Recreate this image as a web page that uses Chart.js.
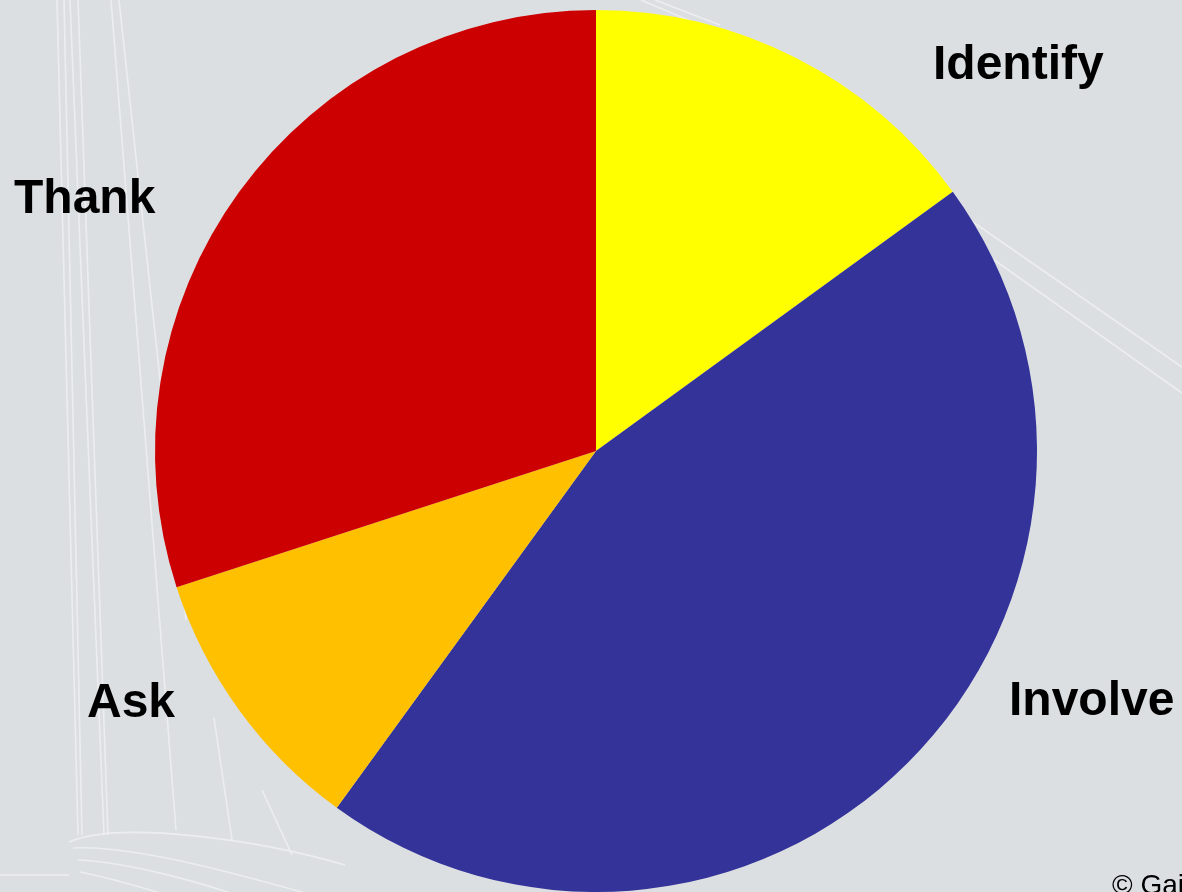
<!DOCTYPE html>
<html>
<head>
<meta charset="utf-8">
<script src="https://cdn.jsdelivr.net/npm/chart.js@4/dist/chart.umd.min.js"></script>
<style>
    html, body { margin: 0; padding: 0; background: #dcdfe2; overflow: hidden; }
    #wrap { width: 1182px; height: 892px; position: relative; }
</style>
</head>
<body>
<div id="wrap"><canvas id="pie"></canvas></div>
<script>
const categories = ['Identify', 'Involve', 'Ask', 'Thank'];
const shares = [15, 45, 10, 30];
const sliceColors = ['#ffff00', '#333399', '#ffc000', '#cc0000'];

// where each category name sits (left x, baseline y)
const labelPos = [[933, 79], [1009, 715], [87, 717], [14, 213]];

// faint white drawing lines in the backdrop
const backdropLines = [
    [[57, 0], [78, 835]],
    [[64, 0], [82, 835]],
    [[70, 0], [104, 835]],
    [[78, 0], [108, 835]],
    [[111, 0], [176, 830]],
    [[119, 0], [186, 620]],
    [[214, 718], [232, 840]],
    [[262, 790], [292, 855]],
    [[0, 875], [69, 875]],
    [[973, 222], [1182, 367]],
    [[990, 257], [1182, 393]],
    [[641, 0], [700, 25]],
    [[655, 0], [720, 25]]
];
const backdropCurves = [
    [[69, 842], [120, 820], [260, 840], [345, 865]],
    [[73, 848], [140, 845], [260, 880], [330, 900]],
    [[78, 860], [130, 862], [210, 885], [250, 900]],
    [[80, 872], [110, 878], [160, 892], [180, 900]]
];

const backdrop = {
    id: 'backdrop',
    beforeDraw(chart) {
        const ctx = chart.ctx;
        ctx.save();
        ctx.fillStyle = '#dcdfe2';
        ctx.fillRect(0, 0, chart.width, chart.height);
        ctx.strokeStyle = 'rgba(246,247,248,0.6)';
        ctx.lineWidth = 1.6;
        backdropLines.forEach(([a, b]) => {
            ctx.beginPath();
            ctx.moveTo(a[0], a[1]);
            ctx.lineTo(b[0], b[1]);
            ctx.stroke();
        });
        backdropCurves.forEach(([p0, p1, p2, p3]) => {
            ctx.beginPath();
            ctx.moveTo(p0[0], p0[1]);
            ctx.bezierCurveTo(p1[0], p1[1], p2[0], p2[1], p3[0], p3[1]);
            ctx.stroke();
        });
        ctx.restore();
    }
};

const sliceNames = {
    id: 'sliceNames',
    afterDraw(chart) {
        const ctx = chart.ctx;
        ctx.save();
        ctx.fillStyle = '#000000';
        ctx.textAlign = 'left';
        ctx.textBaseline = 'alphabetic';
        ctx.font = 'bold 48px "Liberation Sans", Arial, sans-serif';
        categories.forEach((name, i) => {
            ctx.fillText(name, labelPos[i][0], labelPos[i][1]);
        });
        ctx.font = '28px "Liberation Sans", Arial, sans-serif';
        ctx.fillText('\u00a9 Gai', 1112, 894);
        ctx.restore();
    }
};

new Chart(document.getElementById('pie'), {
    type: 'pie',
    data: {
        labels: categories,
        datasets: [{
            data: shares,
            backgroundColor: sliceColors,
            borderWidth: 0,
            hoverOffset: 0
        }]
    },
    options: {
        responsive: true,
        maintainAspectRatio: false,
        animation: false,
        layout: { padding: { left: 155, right: 145, top: 10, bottom: 0 } },
        plugins: {
            legend: { display: false },
            tooltip: { enabled: false }
        }
    },
    plugins: [backdrop, sliceNames]
});
</script>
</body>
</html>
